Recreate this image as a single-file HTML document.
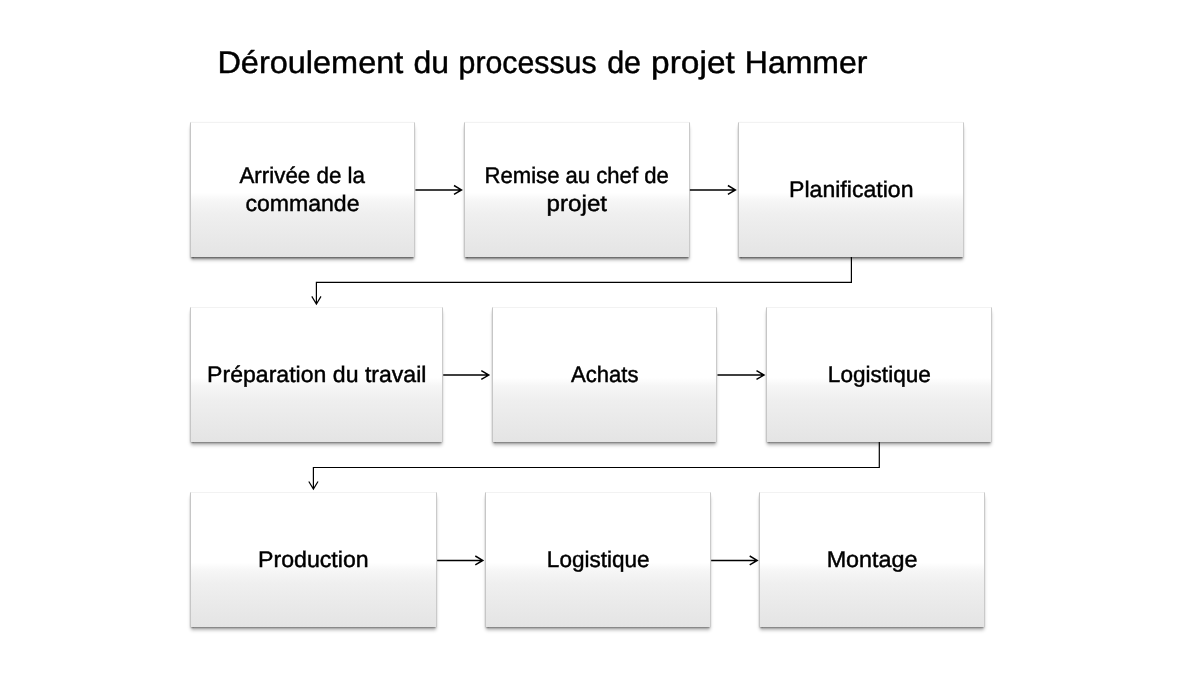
<!DOCTYPE html>
<html lang="fr"><head><meta charset="utf-8"><title>Déroulement du processus de projet Hammer</title>
<style>
html,body{margin:0;padding:0;background:#fff;}
body{width:1200px;height:676px;position:relative;overflow:hidden;font-family:"Liberation Sans",sans-serif;}
.b{position:absolute;box-sizing:border-box;background:linear-gradient(to bottom,#fff 0%,#fff 52%,#f6f6f6 58%,#efefef 68%,#e9e9e9 85%,#e4e4e4 100%);
border-left:1px solid #c6c6c6;border-right:1px solid #cacaca;border-top:1px solid #f2f2f2;border-bottom:0;
box-shadow:0 1.7px 2.2px -0.7px rgba(0,0,0,.8),0 4px 3.5px -1.2px rgba(0,0,0,.3);}
svg{position:absolute;left:0;top:0;will-change:transform;}
text{font-family:"Liberation Sans",sans-serif;fill:#000;stroke:#000;stroke-width:.45px;text-rendering:geometricPrecision;}
.t{font-size:31.2px;}.l{font-size:22.6px;}
.ln{fill:none;stroke:#000;stroke-width:1.45;}
.e{stroke-width:1.2;}
</style></head><body>
<div class="b" style="left:189.8px;top:122px;width:225.60px;height:135.00px"></div>
<div class="b" style="left:464.4px;top:122px;width:225.45px;height:135.00px"></div>
<div class="b" style="left:738.26px;top:122px;width:225.74px;height:135.00px"></div>
<div class="b" style="left:189.8px;top:307px;width:253.40px;height:135.00px"></div>
<div class="b" style="left:491.55px;top:307px;width:225.90px;height:135.00px"></div>
<div class="b" style="left:766.15px;top:307px;width:225.85px;height:135.00px"></div>
<div class="b" style="left:189.8px;top:492.4px;width:247.35px;height:135.00px"></div>
<div class="b" style="left:485.26px;top:492.4px;width:225.89px;height:135.00px"></div>
<div class="b" style="left:759.26px;top:492.4px;width:225.94px;height:135.00px"></div>
<svg width="1200" height="676" viewBox="0 0 1200 676">
<text class="t"><tspan x="217.42" y="72.8" textLength="185.88" lengthAdjust="spacingAndGlyphs">Déroulement</tspan> <tspan x="413.49" y="72.8" textLength="35.53" lengthAdjust="spacingAndGlyphs">du</tspan> <tspan x="458.62" y="72.8" textLength="137.95" lengthAdjust="spacingAndGlyphs">processus</tspan> <tspan x="607.13" y="72.8" textLength="33.94" lengthAdjust="spacingAndGlyphs">de</tspan> <tspan x="651.11" y="72.8" textLength="83.69" lengthAdjust="spacingAndGlyphs">projet</tspan> <tspan x="744.80" y="72.8" textLength="122.56" lengthAdjust="spacingAndGlyphs">Hammer</tspan></text>
<text class="l"><tspan x="239.45" y="182.8" textLength="125.50" lengthAdjust="spacingAndGlyphs">Arrivée de la</tspan> <tspan x="245.49" y="210.8" textLength="114.02" lengthAdjust="spacingAndGlyphs">commande</tspan></text>
<text class="l"><tspan x="484.58" y="182.8" textLength="184.18" lengthAdjust="spacingAndGlyphs">Remise au chef de</tspan> <tspan x="546.62" y="210.8" textLength="60.48" lengthAdjust="spacingAndGlyphs">projet</tspan></text>
<text class="l"><tspan x="789.06" y="196.8" textLength="124.42" lengthAdjust="spacingAndGlyphs">Planification</tspan></text>
<text class="l"><tspan x="207.08" y="382.1" textLength="219.39" lengthAdjust="spacingAndGlyphs">Préparation du travail</tspan></text>
<text class="l"><tspan x="570.95" y="381.8" textLength="67.55" lengthAdjust="spacingAndGlyphs">Achats</tspan></text>
<text class="l"><tspan x="827.86" y="381.8" textLength="103.01" lengthAdjust="spacingAndGlyphs">Logistique</tspan></text>
<text class="l"><tspan x="258.06" y="567.1" textLength="110.62" lengthAdjust="spacingAndGlyphs">Production</tspan></text>
<text class="l"><tspan x="546.86" y="567.1" textLength="102.71" lengthAdjust="spacingAndGlyphs">Logistique</tspan></text>
<text class="l"><tspan x="826.66" y="567.1" textLength="90.91" lengthAdjust="spacingAndGlyphs">Montage</tspan></text>
<path class="ln" d="M415.4 189.9H461.5M454.00 185.50L461.5 189.9L454.00 194.30"/>
<path class="ln" d="M689.85 189.9H735.4M727.90 185.50L735.4 189.9L727.90 194.30"/>
<path class="ln" d="M443.2 375.05H488.8M481.30 370.65L488.8 375.05L481.30 379.45"/>
<path class="ln" d="M717.45 375.05H764.0M756.50 370.65L764.0 375.05L756.50 379.45"/>
<path class="ln" d="M437.15 560.4H482.8M475.30 556.00L482.8 560.4L475.30 564.80"/>
<path class="ln" d="M711.15 560.4H757.2M749.70 556.00L757.2 560.4L749.70 564.80"/>
<path class="ln e" d="M851.4 257V282.4H316.4V304.0M311.8 296.4L316.4 304.0L321.0 296.4"/>
<path class="ln e" d="M879.3 442V467.5H313.4V489.1M308.8 481.5L313.4 489.1L318.0 481.5"/>
</svg>
</body></html>
